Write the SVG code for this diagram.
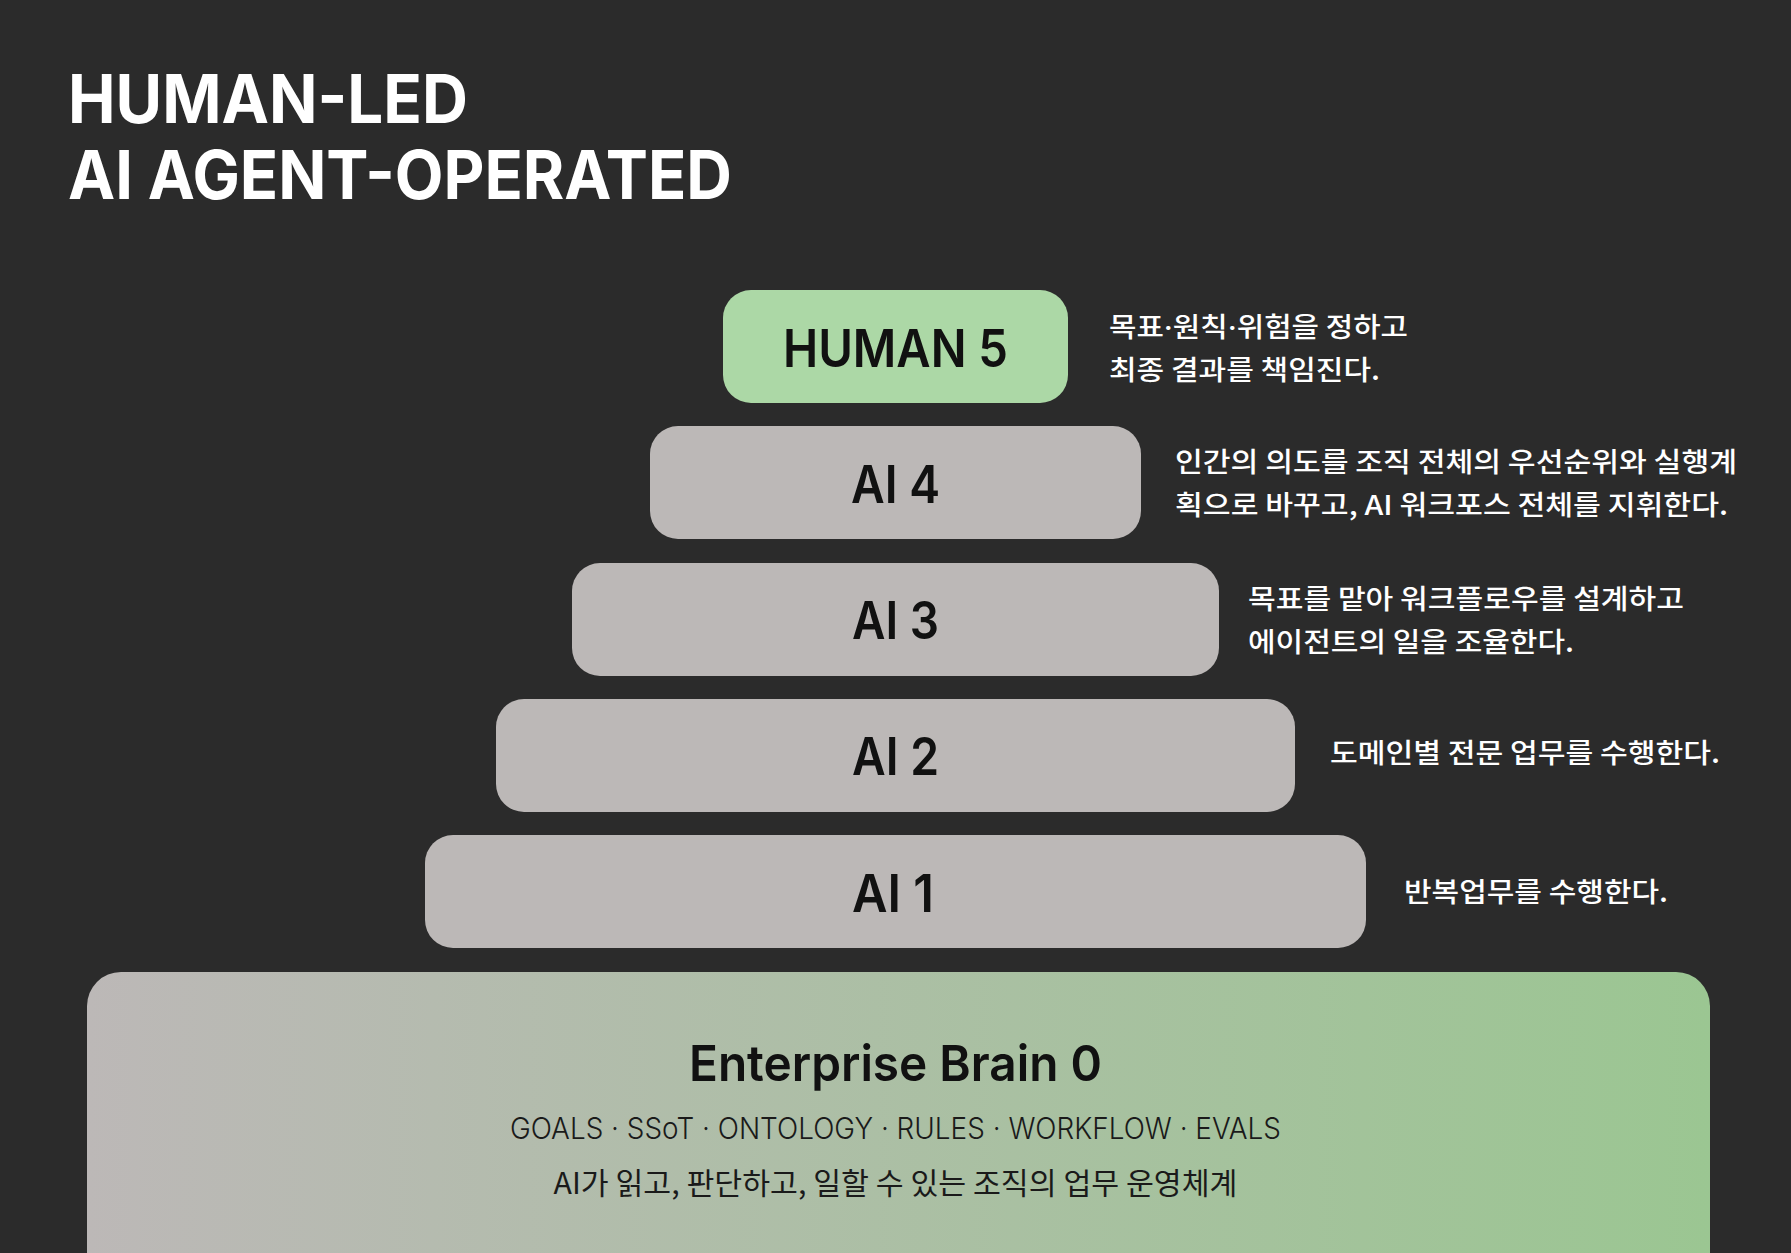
<svg xmlns="http://www.w3.org/2000/svg" width="1791" height="1253" viewBox="0 0 1791 1253">
<style>
.title{font-family:Inter,"Open Sans","Liberation Sans",sans-serif;font-weight:700;font-size:67px;fill:#ffffff}
.lbl{font-family:Inter,"Open Sans","Liberation Sans",sans-serif;font-weight:600;font-size:52px;fill:#111111;text-anchor:middle}
.desc{font-family:"Noto Sans CJK KR","Noto Sans",sans-serif;font-weight:500;font-size:27px;fill:#ffffff}
.dot{font-family:Inter,"Liberation Sans",sans-serif}
.gray{fill:#bcb8b7}
.green{fill:#acd8a6}
.brain{font-family:Inter,"Open Sans","Liberation Sans",sans-serif;font-weight:600;font-size:50px;fill:#111111;text-anchor:middle}
.sub{font-family:Inter,"Open Sans","Liberation Sans",sans-serif;font-weight:300;font-size:30px;fill:#1a1a1a;text-anchor:middle}
.subk{font-family:"Noto Sans CJK KR","Noto Sans",sans-serif;font-weight:400;font-size:30px;fill:#1a1a1a;text-anchor:middle}
</style>
<defs>
<linearGradient id="g0" x1="0" y1="0" x2="1" y2="0">
<stop offset="0" stop-color="#bcb8b7"/>
<stop offset="1" stop-color="#9bc692"/>
</linearGradient>
</defs>
<rect width="1791" height="1253" fill="#2b2b2b"/>
<g id="title">
<text class="title" x="68" y="123" textLength="400" lengthAdjust="spacingAndGlyphs">HUMAN-LED</text>
<text class="title" x="68" y="199" textLength="664" lengthAdjust="spacingAndGlyphs">AI AGENT-OPERATED</text>
</g>
<g id="connectors"></g>
<g id="human5">
<rect class="green" x="723" y="290" width="345" height="113" rx="28"/>
<text class="lbl" x="895.5" y="367" textLength="225" lengthAdjust="spacingAndGlyphs">HUMAN 5</text>
<text class="desc" x="1109" y="337" textLength="299" lengthAdjust="spacingAndGlyphs">목표<tspan class="dot">·</tspan>원칙<tspan class="dot">·</tspan>위험을 정하고</text>
<text class="desc" x="1109" y="380" textLength="271" lengthAdjust="spacingAndGlyphs">최종 결과를 책임진다.</text>
</g>
<g id="ai4">
<rect class="gray" x="650" y="426" width="491" height="113" rx="28"/>
<text class="lbl" x="895.5" y="503" textLength="89" lengthAdjust="spacingAndGlyphs">AI 4</text>
<text class="desc" x="1175" y="472" textLength="562" lengthAdjust="spacingAndGlyphs">인간의 의도를 조직 전체의 우선순위와 실행계</text>
<text class="desc" x="1175" y="515" textLength="553" lengthAdjust="spacingAndGlyphs">획으로 바꾸고, AI 워크포스 전체를 지휘한다.</text>
</g>
<g id="ai3">
<rect class="gray" x="572" y="563" width="647" height="113" rx="28"/>
<text class="lbl" x="895.5" y="639" textLength="87" lengthAdjust="spacingAndGlyphs">AI 3</text>
<text class="desc" x="1248" y="609" textLength="436" lengthAdjust="spacingAndGlyphs">목표를 맡아 워크플로우를 설계하고</text>
<text class="desc" x="1248" y="652" textLength="326" lengthAdjust="spacingAndGlyphs">에이전트의 일을 조율한다.</text>
</g>
<g id="ai2">
<rect class="gray" x="496" y="699" width="799" height="113" rx="28"/>
<text class="lbl" x="895.5" y="775" textLength="87" lengthAdjust="spacingAndGlyphs">AI 2</text>
<text class="desc" x="1330" y="763" textLength="390" lengthAdjust="spacingAndGlyphs">도메인별 전문 업무를 수행한다.</text>
</g>
<g id="ai1">
<rect class="gray" x="425" y="835" width="941" height="113" rx="28"/>
<text class="lbl" x="893" y="912" textLength="82" lengthAdjust="spacingAndGlyphs">AI 1</text>
<text class="desc" x="1404" y="902" textLength="264" lengthAdjust="spacingAndGlyphs">반복업무를 수행한다.</text>
</g>
<g id="brain0">
<rect x="87" y="972" width="1623" height="320" rx="34" fill="url(#g0)"/>
<text class="brain" x="895.5" y="1081" textLength="413" lengthAdjust="spacingAndGlyphs">Enterprise Brain 0</text>
<text class="sub" x="895.5" y="1139" textLength="771" lengthAdjust="spacingAndGlyphs">GOALS · SSoT · ONTOLOGY · RULES · WORKFLOW · EVALS</text>
<text class="subk" x="895.5" y="1194" textLength="684" lengthAdjust="spacingAndGlyphs">AI가 읽고, 판단하고, 일할 수 있는 조직의 업무 운영체계</text>
</g>
</svg>
